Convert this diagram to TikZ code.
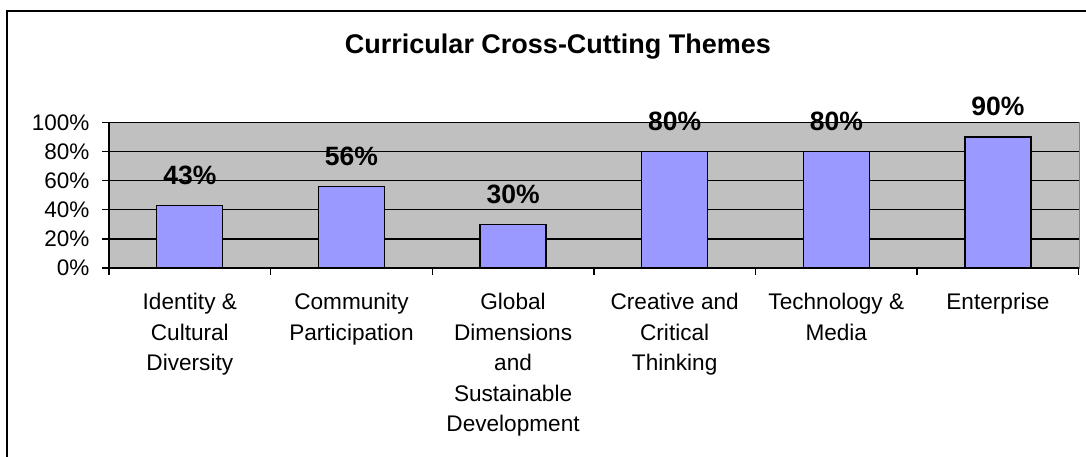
\documentclass[tikz,border=0pt]{standalone}
\usepackage{fontspec}
\setmainfont{Liberation Sans}
\definecolor{plotgray}{HTML}{C0C0C0}
\definecolor{barblue}{HTML}{9999FF}

\begin{document}
\begin{tikzpicture}[x=1pt,y=-1pt,
  barbox/.style={draw=black,line width=1.3pt,fill=barblue},
  vallabel/.style={font=\fontsize{26.5}{30}\selectfont\bfseries},
  catlabel/.style={anchor=north,align=center,inner sep=0pt,font=\fontsize{22.6}{30.5}\selectfont},
  ticklabel/.style={anchor=east,inner sep=0pt,font=\fontsize{22.5}{25}\selectfont}]
  \useasboundingbox (0,0) rectangle (1086,456);

  % frame
  \draw[line width=2.2pt] (7,11) rectangle (1100,470);

  % title
  \node[font=\fontsize{27}{30}\selectfont\bfseries] (title) at (558,47) {Curricular Cross-Cutting Themes};

  % plot area and grid
  \fill[plotgray] (109,122.3) rectangle (1078.7,268);
  \draw[gray] (109,122.3) rectangle (1078.7,268);
  \foreach \p in {20,40,...,100}
    \draw[line width=1.3pt] (109,{268-1.457*\p}) -- (1078.7,{268-1.457*\p});

  % axes
  \draw[line width=1.3pt] (109,122.3) -- (109,268) -- (1078.7,268);
  \foreach \p in {0,20,...,100} {
    \draw[line width=1.3pt] (102,{268-1.457*\p}) -- (109,{268-1.457*\p});
    \node[ticklabel] (t\p) at (89.5,{268-1.457*\p}) {\p\%};
  }
  \foreach \k in {0,...,6}
    \draw[line width=1.3pt] ({109+161.62*\k},268) -- ({109+161.62*\k},275);

  % bars
  \foreach \v [count=\i] in {43,56,30,80,80,90} {
    \pgfmathsetmacro\cx{109+(\i-0.5)*161.62}
    \draw[barbox] (\cx-33,268) rectangle (\cx+33,{268-1.457*\v});
    \node[vallabel] (v\i) at (\cx,{268-1.457*\v-30}) {\v\%};
  }

  % categories
  \foreach \lab [count=\i] in {{Identity \&\\Cultural\\Diversity},
      {Community\\Participation},
      {Global\\Dimensions\\and\\Sustainable\\Development},
      {Creative and\\Critical\\Thinking},
      {Technology \&\\Media},
      {Enterprise}}
    \node[catlabel] (c\i) at ({109+(\i-0.5)*161.62},293) {\lab};
\end{tikzpicture}
\end{document}
